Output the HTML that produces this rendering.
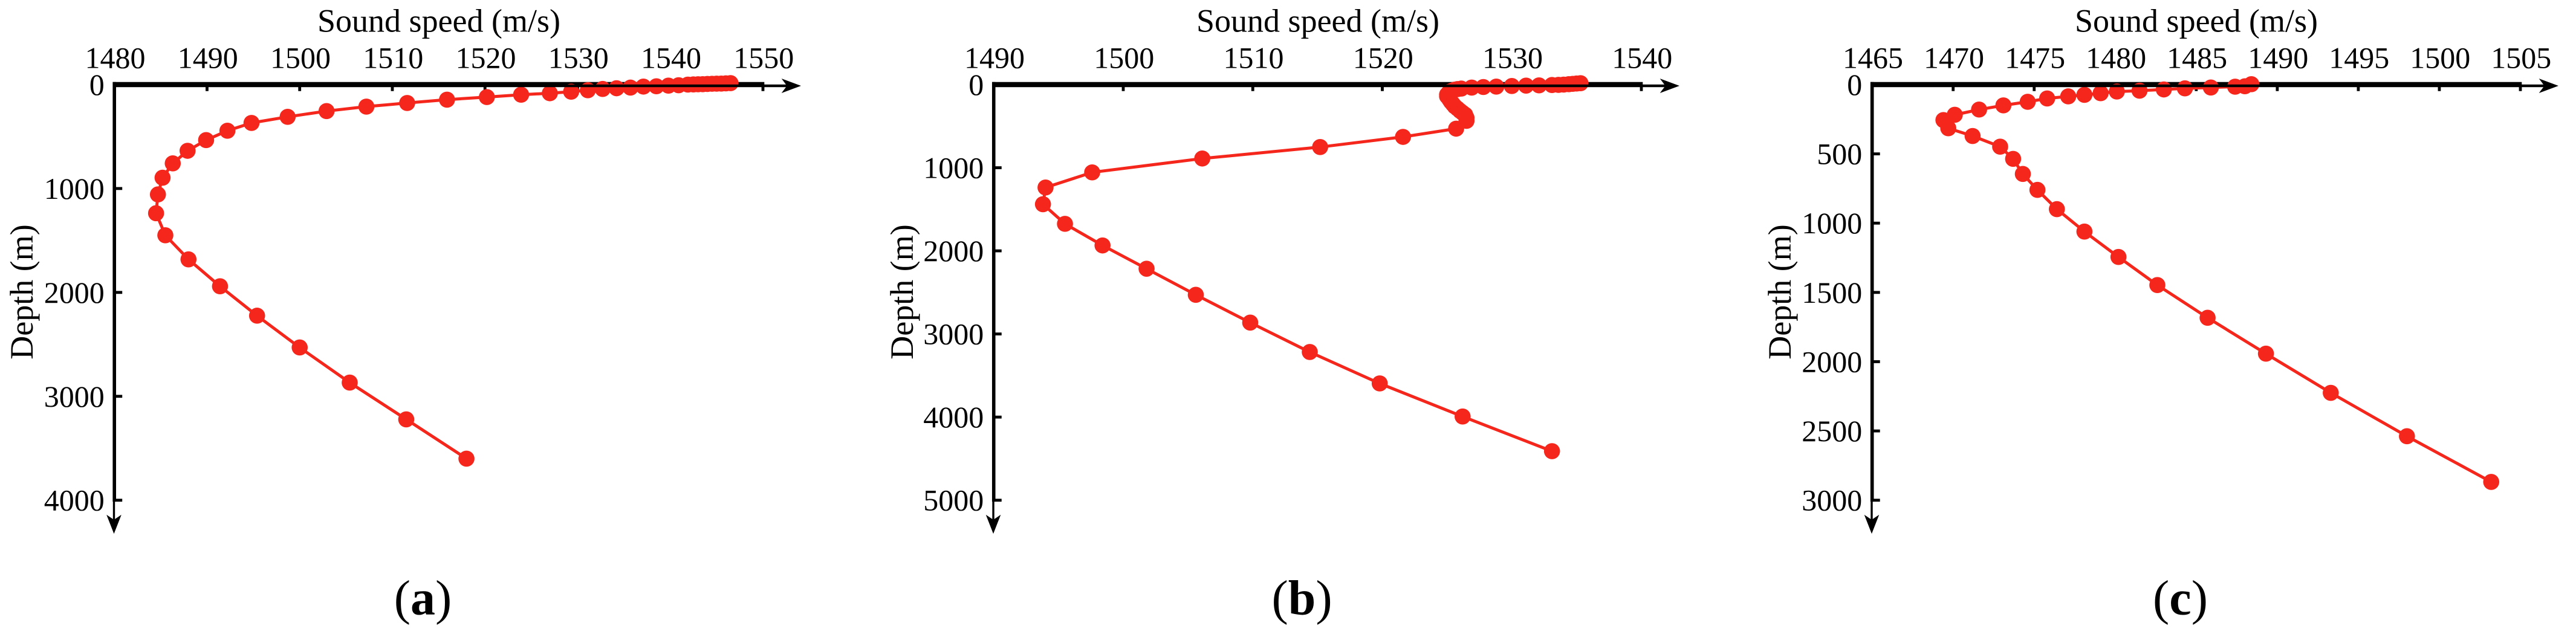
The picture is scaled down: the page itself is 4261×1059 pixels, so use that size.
<!DOCTYPE html>
<html lang="en">
<head>
<meta charset="utf-8">
<title>Sound speed profiles</title>
<style>
html,body{margin:0;padding:0;background:#fff;width:4261px;height:1059px;overflow:hidden}
svg{display:block}
text{font-family:"Liberation Serif","Times New Roman",serif;fill:#000}
</style>
</head>
<body>
<svg id="figure" xmlns="http://www.w3.org/2000/svg" width="4261" height="1059" viewBox="0 0 4261 1059"></svg>
<script>
// Panel (a)
const xTicksA = [1480, 1490, 1500, 1510, 1520, 1530, 1540, 1550];
const yTicksA = [0, 1000, 2000, 3000, 4000];
const speedA = [1546.5,1546.0,1545.5,1545.0,1544.5,1544.0,1543.5,1543.0,1542.5,1541.9,1540.9,1539.8,1538.5,1537.1,1535.7,1534.2,1532.7,1531.1,1529.3,1527.0,1523.9,1520.2,1515.9,1511.6,1507.2,1502.9,1498.7,1494.8,1492.2,1489.9,1487.9,1486.3,1485.2,1484.7,1484.5,1485.5,1488.0,1491.4,1495.4,1500.0,1505.4,1511.5,1518.0];
const depthA = [-14,-12,-10,-9,-8,-6,-4,-3,-2,0,6,10,16,19,29,35,42,54,68,83,97,120,145,177,212,255,310,369,444,534,637,758,896,1057,1238,1450,1682,1941,2224,2530,2868,3222,3600];

// Panel (b)
const xTicksB = [1490, 1500, 1510, 1520, 1530, 1540];
const yTicksB = [0, 1000, 2000, 3000, 4000, 5000];
const speedB = [1535.3,1535.0,1534.7,1534.4,1534.0,1533.6,1533.1,1532.1,1531.1,1530.0,1528.8,1527.8,1526.9,1526.1,1525.8,1525.6,1525.4,1525.2,1525.1,1525.0,1525.0,1525.1,1525.2,1525.3,1525.45,1525.6,1525.8,1526.0,1526.2,1526.4,1526.5,1526.5,1525.7,1521.6,1515.2,1506.1,1497.6,1494.0,1493.8,1495.5,1498.4,1501.8,1505.6,1509.8,1514.4,1519.8,1526.2,1533.1];
const depthB = [-17,-13,-9,-5,0,3,5,9,12,17,24,29,36,48,54,60,72,85,103,121,140,158,182,206,234,262,288,315,339,363,400,436,530,629,751,889,1056,1238,1439,1675,1935,2215,2529,2863,3217,3595,3993,4410];

// Panel (c)
const xTicksC = [1465, 1470, 1475, 1480, 1485, 1490, 1495, 1500, 1505];
const yTicksC = [0, 500, 1000, 1500, 2000, 2500, 3000];
const speedC = [1488.4,1488.0,1487.4,1485.9,1484.3,1483.0,1481.5,1480.1,1479.1,1478.1,1477.1,1475.8,1474.6,1473.1,1471.6,1470.1,1469.4,1469.7,1471.2,1472.9,1473.7,1474.3,1475.2,1476.4,1478.1,1480.2,1482.6,1485.7,1489.3,1493.3,1498.0,1503.2];
const depthC = [-3,12,15,21,27,35,44,50,62,74,85,100,124,150,180,218,256,315,371,448,536,645,760,899,1061,1244,1447,1683,1942,2225,2538,2868];

const SVG_NS = 'http://www.w3.org/2000/svg';
const figure = document.getElementById('figure');
const RED = '#f5261c';

function make(tag, attrs, parent) {
  const el = document.createElementNS(SVG_NS, tag);
  for (const k in attrs) el.setAttribute(k, attrs[k]);
  parent.appendChild(el);
  return el;
}

function drawPanel(p) {
  const xScale = v => p.left + (v - p.xTicks[0]) * (p.right - p.left) / (p.xTicks[p.xTicks.length - 1] - p.xTicks[0]);
  const yScale = v => p.top + (v - p.yTicks[0]) * (p.bottom - p.top) / (p.yTicks[p.yTicks.length - 1] - p.yTicks[0]);

  const g = make('g', {}, figure);
  
  

  // thick axis bars and tick marks (beneath the series)
  const xBar = make('rect', {x: p.left - 2.5, y: p.top - 4.3, width: p.right - p.left + 4.8, height: 8.3, fill: '#000'}, g);
  
  
  const yBar = make('rect', {x: p.left - 2.8, y: p.top - 4.3, width: 5.6, height: p.bottom - p.top + 6.7, fill: '#000'}, g);
  
  

  p.xTicks.forEach(v => {
    const t = make('rect', {x: xScale(v) - 2.4, y: p.top, width: 4.8, height: 10.7, fill: '#000'}, g);
    
    
    const l = make('text', {x: xScale(v) + 1.3, y: 112.7, 'font-size': 50, 'text-anchor': 'middle'}, g);
    
    
    l.textContent = v;
  });
  p.yTicks.forEach(v => {
    const t = make('rect', {x: p.left, y: yScale(v) - 2.4, width: 13, height: 4.8, fill: '#000'}, g);
    
    
    const l = make('text', {x: p.left - 16.5, y: yScale(v) + 17, 'font-size': 50, 'text-anchor': 'end'}, g);
    
    
    l.textContent = v;
  });

  // series
  const pts = p.speed.map((s, i) => xScale(s).toFixed(1) + ',' + yScale(p.depth[i]).toFixed(1)).join(' ');
  const line = make('polyline', {points: pts, fill: 'none', stroke: RED, 'stroke-width': 5, 'stroke-linejoin': 'round'}, g);
  
  
  p.speed.forEach((s, i) => {
    const c = make('circle', {cx: xScale(s), cy: yScale(p.depth[i]), r: 13.3, fill: RED}, g);
    
    
  });

  // thin arrow shafts and heads (above the series)
  const ay = p.top + 2;
  const tipX = p.right + 63;
  const xShaft = make('rect', {x: p.left, y: ay - 2.2, width: p.right + 40 - p.left, height: 4.4, fill: '#000'}, g);
  
  
  const xHead = make('path', {d: 'M' + (tipX - 32.3) + ' ' + (ay - 12) + 'L' + tipX + ' ' + ay + 'L' + (tipX - 32.3) + ' ' + (ay + 12) + 'L' + (tipX - 23.3) + ' ' + ay + 'Z', fill: '#000'}, g);
  
  
  const ax = p.left - 0.7;
  const tipY = p.bottom + 55.6;
  const yShaft = make('rect', {x: ax - 1.7, y: p.bottom, width: 3.4, height: 36, fill: '#000'}, g);
  
  
  const yHead = make('path', {d: 'M' + (ax - 12.3) + ' ' + (tipY - 31.6) + 'L' + ax + ' ' + tipY + 'L' + (ax + 12.3) + ' ' + (tipY - 31.6) + 'L' + ax + ' ' + (tipY - 23.3) + 'Z', fill: '#000'}, g);
  
  

  // titles
  const xt = make('text', {x: p.titleX, y: 52.3, 'font-size': 54, 'text-anchor': 'middle'}, g);
  
  
  xt.textContent = 'Sound speed (m/s)';
  const yt = make('text', {x: 0, y: 0, 'font-size': 54, 'text-anchor': 'middle', transform: 'translate(' + p.yTitleX + ',483) rotate(-90)'}, g);
  
  
  yt.textContent = 'Depth (m)';

  const cap = make('text', {x: p.capX, y: 1016.7, 'font-size': 82, 'text-anchor': 'middle'}, g);
  
  
  cap.appendChild(document.createTextNode('('));
  const bold = make('tspan', {'font-weight': 'bold'}, cap);
  bold.textContent = p.id;
  cap.appendChild(document.createTextNode(')'));
}

drawPanel({id: 'a', xTicks: xTicksA, yTicks: yTicksA, speed: speedA, depth: depthA,
  left: 189.2, right: 1262, top: 140, bottom: 827.7, titleX: 726, yTitleX: 54, capX: 699.5});
drawPanel({id: 'b', xTicks: xTicksB, yTicks: yTicksB, speed: speedB, depth: depthB,
  left: 1643.75, right: 2715, top: 140, bottom: 827.7, titleX: 2180, yTitleX: 1510, capX: 2153.6});
drawPanel({id: 'c', xTicks: xTicksC, yTicks: yTicksC, speed: speedC, depth: depthC,
  left: 3096.7, right: 4169, top: 140, bottom: 827.7, titleX: 3633, yTitleX: 2962, capX: 3606.5});
</script>
</body>
</html>
